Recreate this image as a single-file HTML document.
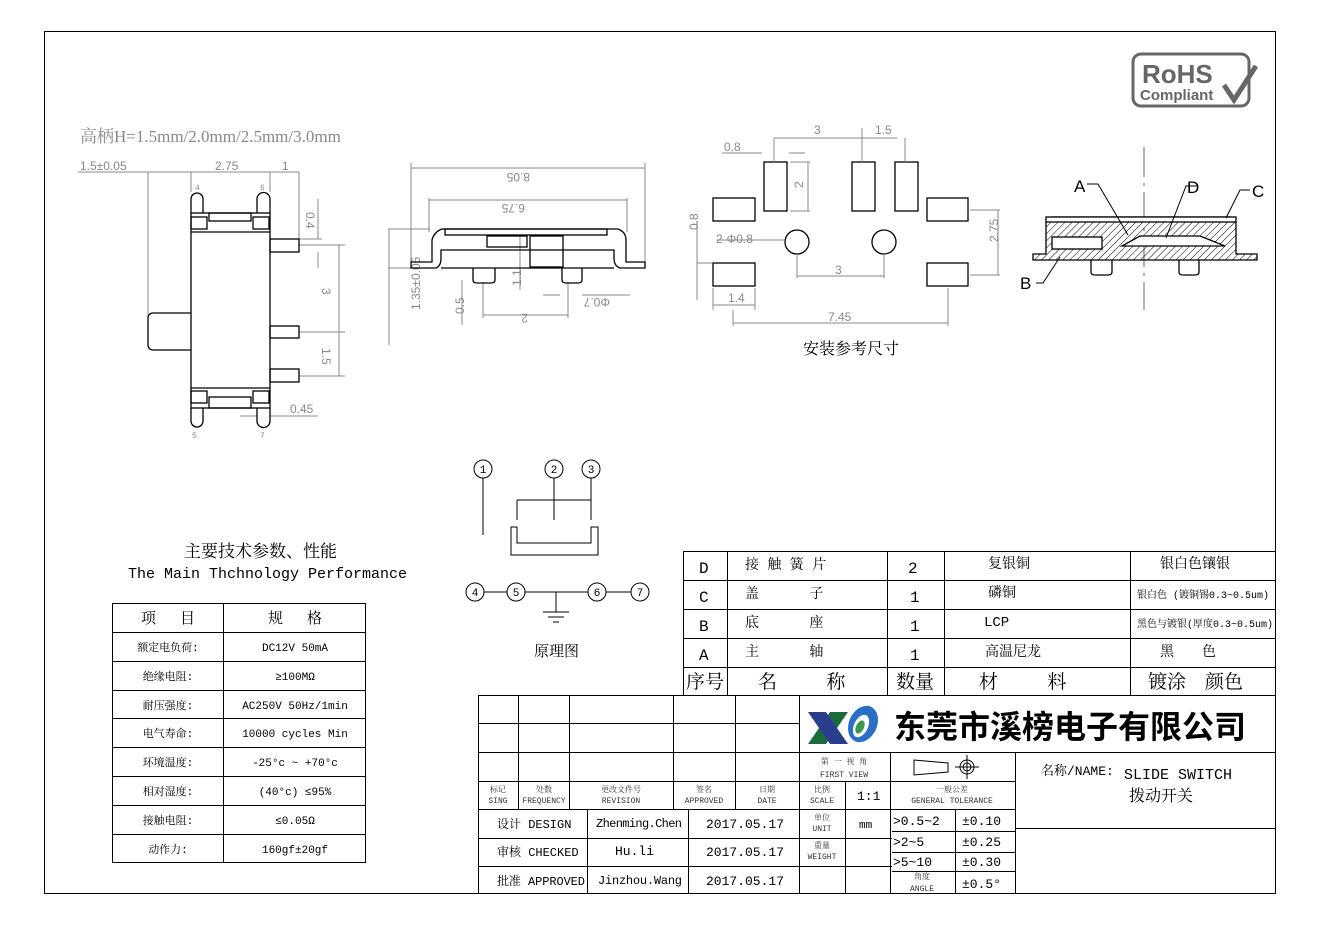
<!DOCTYPE html>
<html><head><meta charset="utf-8"><style>
body{margin:0;background:#fff}
svg{display:block}
text{font-family:"Liberation Mono","Noto Serif CJK SC",serif}
.g{stroke:#888;stroke-width:1;fill:none}
.k{stroke:#000;stroke-width:1.3;fill:none}
.t{stroke:#000;stroke-width:1;fill:none}
.gt{fill:#888;font-family:"Liberation Sans",sans-serif;font-size:12px}
.cn{font-family:"Liberation Serif","Noto Serif CJK SC",serif}
</style></head><body>
<svg width="1324" height="928" viewBox="0 0 1324 928" xmlns="http://www.w3.org/2000/svg">
<defs><pattern id="h" width="5" height="5" patternUnits="userSpaceOnUse" patternTransform="rotate(45)"><line x1="0" y1="0" x2="0" y2="5" stroke="#000" stroke-width="1"/></pattern></defs>
<rect x="44.5" y="31.5" width="1231" height="862" class="t"/>

<!-- RoHS -->
<rect x="1133" y="54" width="116" height="52" rx="8" fill="none" stroke="#666" stroke-width="3"/>
<text x="1142" y="83" style="font-family:'Liberation Sans',sans-serif;font-weight:bold;font-size:26px" fill="#666">RoHS</text>
<text x="1140" y="100" style="font-family:'Liberation Sans',sans-serif;font-weight:bold;font-size:15px" fill="#666">Compliant</text>
<path d="M1224 85 L1234 100 L1256 66" stroke="#666" stroke-width="5" fill="none"/>

<text x="80" y="142" fill="#888" font-size="17" class="cn">高柄H=1.5mm/2.0mm/2.5mm/3.0mm</text>

<!-- left view -->
<g class="g"><line x1="78" y1="172" x2="299" y2="172"/><line x1="148" y1="172" x2="148" y2="316"/><line x1="191" y1="172" x2="191" y2="192"/><line x1="270" y1="172" x2="270" y2="192"/><line x1="299" y1="172" x2="299" y2="239"/>
<line x1="299" y1="239" x2="322" y2="239"/><line x1="299" y1="245" x2="345" y2="245"/><line x1="318" y1="199" x2="318" y2="239"/><line x1="318" y1="252" x2="318" y2="268"/>
<line x1="299" y1="332" x2="345" y2="332"/><line x1="299" y1="376" x2="345" y2="376"/><line x1="339" y1="245" x2="339" y2="376"/>
<line x1="240" y1="416" x2="257" y2="416"/><line x1="270" y1="416" x2="318" y2="416"/></g>
<text x="80" y="170" class="gt">1.5±0.05</text><text x="215" y="170" class="gt">2.75</text><text x="282" y="170" class="gt">1</text>
<text x="312" y="218" class="gt" transform="rotate(90 312 212)">0.4</text><text x="326" y="292" class="gt" transform="rotate(90 326 288)">3</text><text x="326" y="352" class="gt" transform="rotate(90 326 348)">1.5</text>
<text x="290" y="413" class="gt">0.45</text>
<text x="195" y="190" font-size="8" fill="#888">4</text><text x="260" y="190" font-size="8" fill="#888">6</text><text x="192" y="438" font-size="8" fill="#888">5</text><text x="260" y="438" font-size="8" fill="#888">7</text>
<g class="k">
<path d="M191 213 V199 a6 6 0 0 1 12 0 V213"/><path d="M257 213 V199 a6 6 0 0 1 13 0 V213"/>
<path d="M191 408 V421 a6 6 0 0 0 12 0 V408"/><path d="M257 408 V421 a6 6 0 0 0 13 0 V408"/>
<rect x="191" y="213" width="79" height="195"/><line x1="191" y1="232" x2="270" y2="232"/><line x1="191" y1="388" x2="270" y2="388"/>
<rect x="209" y="213" width="42" height="8"/><rect x="209" y="397" width="42" height="11"/>
<rect x="191" y="217" width="16" height="12"/><rect x="253" y="217" width="16" height="12"/><rect x="191" y="391" width="16" height="12"/><rect x="253" y="391" width="16" height="12"/>
<rect x="270" y="239" width="29" height="13"/><rect x="270" y="326" width="29" height="12"/><rect x="270" y="369" width="29" height="13"/>
<path d="M191 313 H153 a5 5 0 0 0 -5 5 V345 a5 5 0 0 0 5 5 H191"/></g>

<!-- side view -->
<g class="g"><line x1="411" y1="163" x2="411" y2="262"/><line x1="645" y1="163" x2="645" y2="262"/><line x1="411" y1="168" x2="645" y2="168"/>
<line x1="429" y1="198" x2="429" y2="232"/><line x1="627" y1="198" x2="627" y2="232"/><line x1="429" y1="200" x2="627" y2="200"/>
<line x1="388" y1="229" x2="430" y2="229"/><line x1="388" y1="268" x2="420" y2="268"/><line x1="389" y1="229" x2="389" y2="345"/>
<line x1="462" y1="280" x2="462" y2="325"/><line x1="483" y1="282" x2="483" y2="318"/><line x1="568" y1="282" x2="568" y2="318"/><line x1="483" y1="315" x2="568" y2="315"/>
<line x1="520" y1="235" x2="520" y2="290"/><line x1="543" y1="295" x2="560" y2="295"/><line x1="582" y1="295" x2="630" y2="295"/></g>
<text x="530" y="181" class="gt" transform="rotate(180 530 177)">8.05</text><text x="525" y="212" class="gt" transform="rotate(180 525 208)">6.75</text>
<text x="385" y="345" class="gt" transform="rotate(-90 385 310)">1.35±0.05</text><text x="458" y="320" class="gt" transform="rotate(-90 458 314)">0.5</text>
<text x="515" y="292" class="gt" transform="rotate(-90 515 286)">1.1</text><text x="528" y="322" class="gt" transform="rotate(180 528 318)">2</text><text x="610" y="306" class="gt" transform="rotate(180 610 302)">Φ0.7</text>
<g class="k"><path d="M411 262 H432 V240 Q434 232 442 229 H618 Q626 232 626 240 V262 H645 V268 H620 Q614 266 614 258 V250 H441 V258 Q441 266 436 268 H411 Z"/>
<rect x="445" y="229" width="162" height="6"/><rect x="487" y="236" width="40" height="11"/><rect x="530" y="236" width="33" height="31"/><line x1="441" y1="268" x2="614" y2="268"/>
<path d="M473 268 V280 Q473 283 477 283 H491 Q495 283 495 280 V268"/><path d="M562 268 V280 Q562 283 566 283 H578 Q582 283 582 280 V268"/></g>

<!-- pads -->
<g class="k"><rect x="764" y="162" width="23" height="49"/><rect x="852" y="162" width="23" height="49"/><rect x="895" y="162" width="23" height="49"/>
<rect x="713" y="198" width="42" height="23"/><rect x="713" y="263" width="42" height="23"/><rect x="927" y="198" width="41" height="23"/><rect x="927" y="263" width="41" height="23"/>
<circle cx="797" cy="242" r="12"/><circle cx="884" cy="242" r="12"/></g>
<g class="g"><line x1="774" y1="138" x2="897" y2="138"/><line x1="774" y1="138" x2="774" y2="162"/><line x1="862" y1="128" x2="862" y2="162"/><line x1="905" y1="138" x2="905" y2="162"/>
<line x1="722" y1="153" x2="762" y2="153"/><line x1="789" y1="153" x2="805" y2="153"/><line x1="790" y1="162" x2="810" y2="162"/><line x1="790" y1="211" x2="810" y2="211"/><line x1="808" y1="162" x2="808" y2="211"/>
<line x1="970" y1="210" x2="1000" y2="210"/><line x1="970" y1="275" x2="1000" y2="275"/><line x1="998" y1="210" x2="998" y2="275"/>
<line x1="797" y1="254" x2="797" y2="278"/><line x1="884" y1="254" x2="884" y2="278"/><line x1="797" y1="276" x2="884" y2="276"/>
<line x1="717" y1="240" x2="784" y2="240"/><line x1="697" y1="221" x2="697" y2="300"/><line x1="697" y1="263" x2="712" y2="263"/>
<line x1="713" y1="288" x2="713" y2="310"/><line x1="755" y1="288" x2="755" y2="310"/><line x1="713" y1="305" x2="755" y2="305"/>
<line x1="948" y1="288" x2="948" y2="326"/><line x1="733" y1="310" x2="733" y2="326"/><line x1="733" y1="323" x2="948" y2="323"/></g>
<text x="814" y="134" class="gt">3</text><text x="875" y="134" class="gt">1.5</text><text x="724" y="151" class="gt">0.8</text>
<text x="798" y="193" class="gt" transform="rotate(-90 798 188)">2</text><text x="990" y="250" class="gt" transform="rotate(-90 990 242)">2.75</text>
<text x="716" y="243" class="gt">2-Φ0.8</text><text x="835" y="274" class="gt">3</text><text x="728" y="302" class="gt">1.4</text><text x="828" y="321" class="gt">7.45</text>
<text x="692" y="236" class="gt" transform="rotate(-90 692 230)">0.8</text>
<text x="803" y="354" font-size="16" class="cn">安装参考尺寸</text>

<!-- section -->
<line x1="1144" y1="147" x2="1144" y2="310" stroke="#000" stroke-width="0.6" stroke-dasharray="30 6 3 6"/>
<g class="k"><path d="M1033 254 H1046 V222 Q1046 217 1052 217 H1230 Q1236 217 1236 222 V254 H1257 V260 H1033 Z" fill="url(#h)"/>
<rect x="1046" y="217" width="190" height="5" fill="#fff"/>
<rect x="1052" y="237" width="50" height="12" fill="#fff"/>
<path d="M1122 246 L1140 236 H1200 L1225 246 Z" fill="#fff"/>
<path d="M1091 260 V272 Q1091 275 1095 275 H1108 Q1112 275 1112 272 V260"/><path d="M1179 260 V272 Q1179 275 1183 275 H1195 Q1199 275 1199 272 V260"/></g>
<g class="t"><path d="M1087 184 H1098 L1128 235"/><path d="M1198 186 H1186 L1166 238"/><path d="M1250 190 H1240 L1226 218"/><path d="M1036 283 H1043 L1060 257"/></g>
<text x="1074" y="192" font-size="17" style="font-family:'Liberation Sans',sans-serif">A</text><text x="1187" y="193" font-size="17" style="font-family:'Liberation Sans',sans-serif">D</text><text x="1252" y="197" font-size="17" style="font-family:'Liberation Sans',sans-serif">C</text><text x="1020" y="289" font-size="17" style="font-family:'Liberation Sans',sans-serif">B</text>

<!-- schematic -->
<g class="t"><circle cx="483" cy="469" r="9"/><circle cx="554" cy="469" r="9"/><circle cx="591" cy="469" r="9"/>
<line x1="483" y1="478" x2="483" y2="535"/><line x1="554" y1="478" x2="554" y2="520"/><line x1="517" y1="500" x2="591" y2="500"/><line x1="517" y1="500" x2="517" y2="520"/><line x1="591" y1="478" x2="591" y2="520"/>
<path d="M511 527 V555 H598 V527 H591 V543 H517 V527 Z"/>
<circle cx="475" cy="592" r="9"/><circle cx="516" cy="592" r="9"/><circle cx="597" cy="592" r="9"/><circle cx="640" cy="592" r="9"/>
<line x1="484" y1="592" x2="507" y2="592"/><line x1="525" y1="592" x2="588" y2="592"/><line x1="606" y1="592" x2="631" y2="592"/>
<line x1="556" y1="592" x2="556" y2="612"/><line x1="543" y1="612" x2="569" y2="612"/><line x1="548" y1="617" x2="564" y2="617"/><line x1="553" y1="622" x2="559" y2="622"/></g>
<g font-size="11" text-anchor="middle" style="font-family:'Liberation Sans',sans-serif"><text x="483" y="473">1</text><text x="554" y="473">2</text><text x="591" y="473">3</text><text x="475" y="596">4</text><text x="516" y="596">5</text><text x="597" y="596">6</text><text x="640" y="596">7</text></g>
<text x="534" y="656" font-size="15" class="cn">原理图</text>

<!-- left spec -->
<text x="184" y="557" font-size="17" class="cn">主要技术参数、性能</text>
<text x="128" y="578" font-size="15">The Main Thchnology Performance</text>
<g class="t"><rect x="112.5" y="603.5" width="253" height="259"/><line x1="223.5" y1="603" x2="223.5" y2="863"/>
<line x1="112" y1="632.5" x2="366" y2="632.5"/><line x1="112" y1="661.5" x2="366" y2="661.5"/><line x1="112" y1="690.5" x2="366" y2="690.5"/><line x1="112" y1="718.5" x2="366" y2="718.5"/><line x1="112" y1="747.5" x2="366" y2="747.5"/><line x1="112" y1="776.5" x2="366" y2="776.5"/><line x1="112" y1="805.5" x2="366" y2="805.5"/><line x1="112" y1="834.5" x2="366" y2="834.5"/></g>
<g font-size="11" text-anchor="middle" class="cn"><text x="168" y="623" font-size="15">项　 目</text><text x="295" y="623" font-size="15">规　 格</text>
<text x="168" y="651">额定电负荷:</text><text x="295" y="651">DC12V 50mA</text>
<text x="168" y="680">绝缘电阻:</text><text x="295" y="680">≥100MΩ</text>
<text x="168" y="709">耐压强度:</text><text x="295" y="709">AC250V  50Hz/1min</text>
<text x="168" y="737">电气寿命:</text><text x="295" y="737">10000 cycles Min</text>
<text x="168" y="766">环境温度:</text><text x="295" y="766">-25°c ~ +70°c</text>
<text x="168" y="795">相对湿度:</text><text x="295" y="795">(40°c) ≤95%</text>
<text x="168" y="824">接触电阻:</text><text x="295" y="824">≤0.05Ω</text>
<text x="168" y="853">动作力:</text><text x="295" y="853">160gf±20gf</text></g>

<!-- BOM table -->
<g class="t"><rect x="683.5" y="551.5" width="592" height="144"/>
<line x1="683" y1="580.5" x2="1276" y2="580.5"/><line x1="683" y1="609.5" x2="1276" y2="609.5"/><line x1="683" y1="638.5" x2="1276" y2="638.5"/><line x1="683" y1="667.5" x2="1276" y2="667.5"/>
<line x1="727.5" y1="551" x2="727.5" y2="695"/><line x1="887.5" y1="551" x2="887.5" y2="695"/><line x1="944.5" y1="551" x2="944.5" y2="695"/><line x1="1130.5" y1="551" x2="1130.5" y2="695"/></g>
<g font-size="16" class="cn"><text x="699" y="573">D</text><text x="745" y="569" font-size="14">接 触  簧 片</text><text x="908" y="573">2</text><text x="988" y="568" font-size="14">复银铜</text><text x="1160" y="568" font-size="14">银白色镶银</text>
<text x="699" y="602">C</text><text x="745" y="598" font-size="14">盖　　　 子</text><text x="910" y="602">1</text><text x="988" y="597" font-size="14">磷铜</text><text x="1137" y="598" font-size="10">银白色 (镀铜锡0.3~0.5um)</text>
<text x="699" y="631">B</text><text x="745" y="627" font-size="14">底　　　 座</text><text x="910" y="631">1</text><text x="984" y="626" font-size="14">LCP</text><text x="1137" y="627" font-size="10">黑色与镀银(厚度0.3~0.5um)</text>
<text x="699" y="660">A</text><text x="745" y="656" font-size="14">主　　　 轴</text><text x="910" y="660">1</text><text x="985" y="656" font-size="14">高温尼龙</text><text x="1160" y="656" font-size="14">黑　　色</text>
<text x="686" y="688" font-size="19">序号</text><text x="758" y="688" font-size="19">名　　 称</text><text x="896" y="688" font-size="19">数量</text><text x="979" y="688" font-size="19">材　　 料</text><text x="1148" y="688" font-size="19">镀涂　颜色</text></g>

<!-- title block -->
<g class="t"><rect x="478.5" y="695.5" width="797" height="198"/>
<line x1="478" y1="723.5" x2="800" y2="723.5"/><line x1="478" y1="752.5" x2="1276" y2="752.5"/><line x1="478" y1="781.5" x2="1015" y2="781.5"/><line x1="478" y1="809.5" x2="1015" y2="809.5"/>
<line x1="478" y1="838.5" x2="892" y2="838.5"/><line x1="478" y1="866.5" x2="892" y2="866.5"/><line x1="892" y1="831.5" x2="1015" y2="831.5"/><line x1="892" y1="852.5" x2="1015" y2="852.5"/><line x1="892" y1="871.5" x2="1015" y2="871.5"/>
<line x1="1015" y1="828.5" x2="1276" y2="828.5"/>
<line x1="518.5" y1="695" x2="518.5" y2="809"/><line x1="569.5" y1="695" x2="569.5" y2="809"/><line x1="673.5" y1="695" x2="673.5" y2="809"/><line x1="735.5" y1="695" x2="735.5" y2="809"/><line x1="799.5" y1="695" x2="799.5" y2="893"/>
<line x1="587.5" y1="809" x2="587.5" y2="893"/><line x1="688.5" y1="809" x2="688.5" y2="893"/><line x1="845.5" y1="781" x2="845.5" y2="893"/><line x1="890.5" y1="752" x2="890.5" y2="893"/><line x1="955.5" y1="809" x2="955.5" y2="893"/><line x1="1015.5" y1="752" x2="1015.5" y2="893"/></g>
<!-- logo -->
<path d="M808 744 L830 712 H848 L826 744 Z" fill="#1d6b3a"/><path d="M808 712 H826 L848 744 H830 Z" fill="#2a3d8f"/>
<ellipse cx="863" cy="724" rx="14" ry="19" fill="#2a6fc4" transform="rotate(25 863 724)"/><ellipse cx="861" cy="726" rx="7" ry="12" fill="#fff" transform="rotate(25 861 726)"/><ellipse cx="860" cy="727" rx="4" ry="7" fill="#3a9a4a" transform="rotate(25 860 727)"/>
<text x="894" y="738" font-size="32" font-weight="bold" style="font-family:'Noto Sans CJK SC',sans-serif">东莞市溪榜电子有限公司</text>
<g fill="none" stroke="#000"><path d="M914 760 L948 763 V772 L914 775 Z"/><circle cx="967" cy="767" r="7"/><circle cx="967" cy="767" r="4"/><line x1="955" y1="767" x2="979" y2="767"/><line x1="967" y1="755" x2="967" y2="779"/></g>
<g font-size="8" text-anchor="middle" fill="#333" class="cn"><text x="844" y="764">第 一 视 角</text><text x="844" y="777">FIRST VIEW</text>
<text x="498" y="792">标记</text><text x="498" y="803">SING</text><text x="544" y="792">处数</text><text x="544" y="803">FREQUENCY</text><text x="621" y="792">更改文件号</text><text x="621" y="803">REVISION</text>
<text x="704" y="792">签名</text><text x="704" y="803">APPROVED</text><text x="767" y="792">日期</text><text x="767" y="803">DATE</text><text x="822" y="792">比例</text><text x="822" y="803">SCALE</text>
<text x="952" y="792">一般公差</text><text x="952" y="803">GENERAL TOLERANCE</text><text x="822" y="820">单位</text><text x="822" y="831">UNIT</text><text x="822" y="848">重量</text><text x="822" y="859">WEIGHT</text>
<text x="922" y="879">角度</text><text x="922" y="891">ANGLE</text></g>
<g font-size="13" class="cn"><text x="857" y="800">1:1</text><text x="859" y="828" font-size="11">mm</text>
<text x="497" y="828" font-size="12">设计 DESIGN</text><text x="596" y="827" font-size="12" textLength="86">Zhenming.Chen</text><text x="706" y="828">2017.05.17</text>
<text x="497" y="856" font-size="12">审核 CHECKED</text><text x="615" y="855">Hu.li</text><text x="706" y="856">2017.05.17</text>
<text x="497" y="885" font-size="12" textLength="88">批准 APPROVED</text><text x="598" y="884" font-size="12" textLength="84">Jinzhou.Wang</text><text x="706" y="885">2017.05.17</text>
<text x="893" y="825">&gt;0.5~2</text><text x="962" y="825">±0.10</text><text x="893" y="846">&gt;2~5</text><text x="962" y="846">±0.25</text><text x="893" y="866">&gt;5~10</text><text x="962" y="866">±0.30</text><text x="962" y="888">±0.5°</text>
<text x="1041" y="775">名称/NAME:</text><text x="1124" y="779" font-size="15">SLIDE SWITCH</text><text x="1129" y="801" font-size="16">拨动开关</text></g>
</svg>
</body></html>
